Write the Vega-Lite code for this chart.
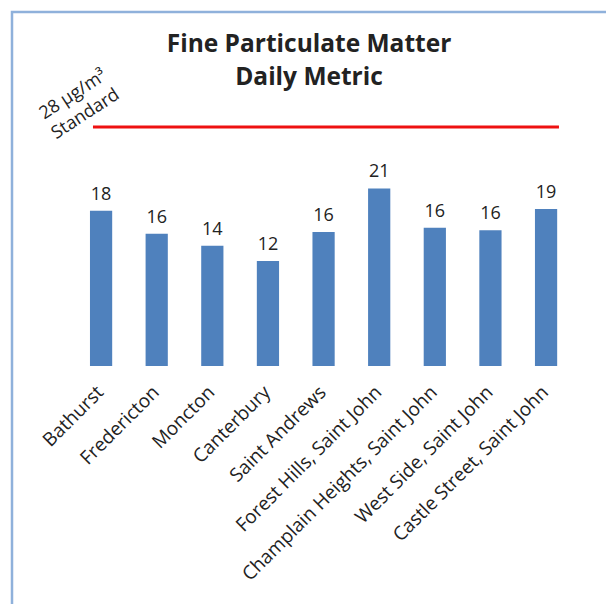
{
  "$schema": "https://vega.github.io/schema/vega-lite/v6.json",
  "width": 598,
  "height": 596,
  "autosize": {"type": "none"},
  "padding": {"left": 12, "top": 12, "right": 0, "bottom": 0},
  "background": "white",
  "config": {
    "view": {"stroke": "#8FB1DB", "strokeWidth": 2.5},
    "font": "Open Sans"
  },
  "title": {
    "text": ["Fine Particulate Matter", "Daily Metric"],
    "frame": "group",
    "anchor": "middle",
    "dx": -2,
    "offset": -78,
    "fontSize": 24.5,
    "fontWeight": "bold",
    "font": "Open Sans",
    "color": "#222222",
    "lineHeight": 33
  },
  "datasets": {
    "sites": [
      {"site": "Bathurst", "value": 18.2, "label": "18"},
      {"site": "Fredericton", "value": 15.5, "label": "16"},
      {"site": "Moncton", "value": 14.1, "label": "14"},
      {"site": "Canterbury", "value": 12.3, "label": "12"},
      {"site": "Saint Andrews", "value": 15.7, "label": "16"},
      {"site": "Forest Hills, Saint John", "value": 20.8, "label": "21"},
      {"site": "Champlain Heights, Saint John", "value": 16.2, "label": "16"},
      {"site": "West Side, Saint John", "value": 15.9, "label": "16"},
      {"site": "Castle Street, Saint John", "value": 18.4, "label": "19"}
    ],
    "standard": [
      {"standard": 28, "from": "Bathurst", "to": "Castle Street, Saint John", "note": ["28 µg/m³", "Standard"]}
    ]
  },
  "layer": [
    {
      "data": {"name": "sites"},
      "mark": {"type": "bar", "color": "#4F81BD", "width": {"band": 0.532}},
      "encoding": {
        "x": {
          "field": "site",
          "type": "nominal",
          "axis": null,
          "scale": {
            "domain": ["Bathurst", "Fredericton", "Moncton", "Canterbury", "Saint Andrews", "Forest Hills, Saint John", "Champlain Heights, Saint John", "West Side, Saint John", "Castle Street, Saint John"],
            "paddingInner": 0.249,
            "paddingOuter": 1,
            "align": 0.613
          }
        },
        "y": {
          "field": "value",
          "type": "quantitative",
          "axis": null,
          "scale": {"domain": [-28.35, 41.47], "nice": false, "zero": false}
        }
      }
    },
    {
      "data": {"name": "sites"},
      "mark": {"type": "text", "fontSize": 18, "baseline": "alphabetic", "dy": -11, "color": "#222222"},
      "encoding": {
        "x": {"field": "site", "type": "nominal"},
        "y": {"field": "value", "type": "quantitative"},
        "text": {"field": "label"}
      }
    },
    {
      "data": {"name": "sites"},
      "mark": {"type": "text", "fontSize": 19, "angle": -45, "align": "right", "baseline": "middle", "dx": -17, "dy": 16, "color": "#222222"},
      "encoding": {
        "x": {"field": "site", "type": "nominal"},
        "y": {"datum": 0, "type": "quantitative"},
        "text": {"field": "site"}
      }
    },
    {
      "data": {"name": "standard"},
      "mark": {"type": "rule", "color": "#EE1111", "strokeWidth": 3},
      "encoding": {
        "x": {"field": "from", "type": "nominal", "bandPosition": 0.306},
        "x2": {"field": "to", "bandPosition": 0.809},
        "y": {"field": "standard", "type": "quantitative"}
      }
    },
    {
      "data": {"name": "standard"},
      "mark": {"type": "text", "fontSize": 18, "angle": -33, "align": "center", "baseline": "middle", "lineHeight": 23, "dx": -6, "dy": -42, "color": "#222222"},
      "encoding": {
        "x": {"field": "from", "type": "nominal"},
        "y": {"field": "standard", "type": "quantitative"},
        "text": {"field": "note"}
      }
    }
  ]
}
